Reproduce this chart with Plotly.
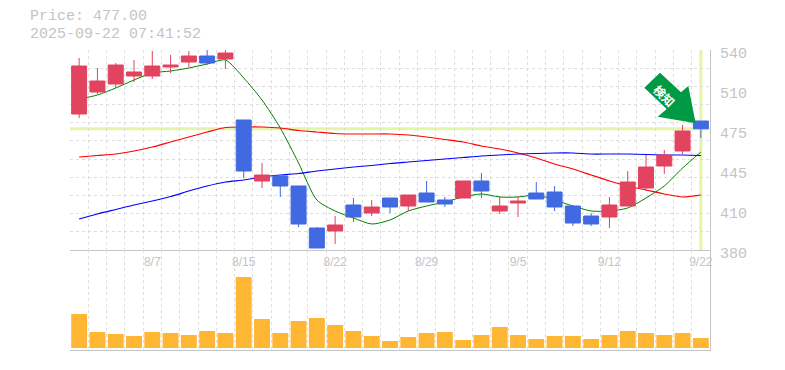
import plotly.graph_objects as go

dates = ["8/1","8/4","8/5","8/6","8/7","8/8","8/12","8/13","8/14","8/15","8/18","8/19","8/20","8/21","8/22","8/25","8/26","8/27","8/28","8/29","9/1","9/2","9/3","9/4","9/5","9/8","9/9","9/10","9/11","9/12","9/16","9/17","9/18","9/19","9/22"]
opens = [488.8,506.4,512.8,519.2,519.2,526.4,530.4,535.2,532.8,484,435.2,439.2,431.2,397.6,395.2,416,409.6,421.6,415.2,425.6,420,421.6,435.2,411.2,417.6,425.6,426.4,415.2,407.2,406.4,415.2,429.6,447.2,459.2,483.2]
highs = [533.6,525.6,529.6,532,539.2,536,539.2,541.6,541.6,484,449.6,439.2,431.2,398.4,407.2,421.6,420,421.6,424,435.2,422.4,435.2,441.6,423.2,423.2,434.4,431.2,416,409.6,422.4,443.2,456,460,480,483.2]
lows = [485.6,504.8,509.6,514.4,516.8,521.6,526.4,528,524.8,437.6,429.6,422.4,398.4,381.6,384.8,402.4,407.2,409.6,411.2,418.4,414.4,421.6,421.6,408.8,406.4,420.8,411.2,399.2,399.2,397.6,415.2,427.2,440.8,456.8,469.6]
closes = [527.2,515.2,528,522.4,527.2,528,535.2,529.6,537.6,443.2,440,431.2,400.8,381.6,400,406.4,414.4,414.4,424,418.4,416.8,435.2,427.2,415.2,419.2,420.8,414.4,401.6,400.8,416,434.4,446.4,456,475.2,477]
ma_short = [500.8,504,509.6,516,521.6,523.2,525.6,528.8,532,517.6,500,477.6,449.6,420,411.2,405.6,400.8,404,411.2,415.2,418.4,422.4,424.8,422.4,422.4,424,420,415.2,411.2,411.2,413.6,421.6,431.2,445.6,458.4]
ma_mid = [454.4,455.6,456.8,459.2,462.4,466.4,470.4,474.4,478,478.4,478.4,477.6,475.6,474.4,473.2,472.8,472.8,472.8,472,470.4,468.4,466.4,463.2,460.8,457.6,453.6,448.8,444.8,440,435.2,431.2,428,424.8,422.4,424]
ma_long = [404.8,408.8,412.4,416,419.2,422.8,427.2,431.2,434.4,436,438.4,440,441.2,443.2,444.8,446.4,447.6,449.2,450.4,451.6,452.8,454,455.2,456,456.8,457.2,457.6,457.6,456.8,456.8,456.8,456.4,456,456,455.6]
volumes = [34,16,14,12,16,15,13,17,15,71,29,15,27,30,23,17,12,7,11,15,16,8,13,21,13,9,12,12,9,13,17,15,13,15,10]
price_ticks = [380,412,444,476,508,540]
price_labels = ["380","410","445","475","510","540"]
date_ticks = ["8/7","8/15","8/22","8/29","9/5","9/12","9/22"]
current_price = 477.00
timestamp = "2025-09-22 07:41:52"
signal_text = "検知"

GRAY = "#c4c4c4"
GRID = "#dddddd"
RED = "#e2435f"
BLUE = "#4169e1"
CROSS = "#e4f5a8"
MONO = "Liberation Mono"
idx = list(range(len(dates)))
date_pos = [dates.index(d) for d in date_ticks]

fig = go.Figure()
fig.add_trace(go.Scatter(x=idx, y=ma_short, mode="lines", line=dict(color="#008000", width=1, shape="spline", smoothing=0.7)))
fig.add_trace(go.Scatter(x=idx, y=ma_mid, mode="lines", line=dict(color="#ff0000", width=1.2, shape="spline", smoothing=0.7)))
fig.add_trace(go.Scatter(x=idx, y=ma_long, mode="lines", line=dict(color="#0000ff", width=1.2, shape="spline", smoothing=0.7)))
fig.add_trace(go.Candlestick(
    x=idx, open=opens, high=highs, low=lows, close=closes, yaxis="y3", whiskerwidth=0,
    increasing=dict(line=dict(color=RED, width=1), fillcolor=RED),
    decreasing=dict(line=dict(color=BLUE, width=1), fillcolor=BLUE),
))
fig.add_trace(go.Bar(x=idx, y=volumes, yaxis="y2", xaxis="x2", width=0.87, marker=dict(color="#ffb733", line_width=0)))

minor_x = dict(showgrid=True, griddash="3px,3px", gridcolor=GRID, gridwidth=1, tick0=-0.5, dtick=1, ticklen=0)
fig.update_layout(
    width=777, height=362, autosize=False, showlegend=False,
    margin=dict(l=62, r=75, t=42, b=20, autoexpand=False),
    paper_bgcolor="white", plot_bgcolor="white",
    font=dict(family=MONO, size=15, color=GRAY),
    boxgap=0.18, boxgroupgap=0,
    xaxis=dict(domain=[0, 1], range=[-0.5, 34.5], anchor="y", rangeslider=dict(visible=False), automargin=False,
               tickmode="array", tickvals=date_pos, ticktext=date_ticks, showgrid=False, ticks="",
               tickfont=dict(family="Liberation Sans", size=12, color=GRAY), ticklabelstandoff=1,
               showline=True, linecolor=GRAY, linewidth=1, zeroline=False, minor=minor_x),
    xaxis2=dict(domain=[0, 1], range=[-0.5, 34.5], anchor="y2", showticklabels=False, showgrid=False, ticks="", automargin=False,
                showline=True, linecolor=GRAY, linewidth=1, zeroline=False, minor=minor_x),
    yaxis=dict(domain=[1/3, 1], range=[380, 540], side="right", anchor="x", automargin=False,
               tickmode="array", tickvals=price_ticks, ticktext=price_labels, showgrid=False, ticks="",
               ticklabelshift=3, ticklabelstandoff=6, showline=True, linecolor=GRAY, linewidth=1, zeroline=False,
               minor=dict(showgrid=True, griddash="3px,3px", gridcolor=GRID, gridwidth=1, tick0=380, dtick=160/11, ticklen=0)),
    yaxis2=dict(domain=[0, 1/3], range=[-2, 98], side="right", anchor="x2", showticklabels=False, showgrid=False, automargin=False,
                ticks="", showline=True, linecolor=GRAY, linewidth=1, zeroline=False),
    yaxis3=dict(overlaying="y", range=[380, 540], side="right", anchor="x", showticklabels=False, automargin=False,
                showgrid=False, ticks="", zeroline=False, showline=False),
    shapes=[
        dict(type="line", xref="x", yref="y", x0=-0.5, x1=34.5, y0=current_price, y1=current_price,
             line=dict(color=CROSS, width=3), layer="below"),
        dict(type="line", xref="x", yref="y", x0=idx[-1], x1=idx[-1], y0=380, y1=540,
             line=dict(color=CROSS, width=3), layer="below"),
        dict(type="path", xref="paper", yref="paper", fillcolor="#009a44", line=dict(width=0), layer="above",
             path="M %f %f L %f %f L %f %f L %f %f L %f %f L %f %f L %f %f Z" % tuple(
                 v for p in [(660,72.7),(644.3,87.7),(666.7,109),(657.7,116.7),(695.7,123.3),(688.3,86),(681,92.3)]
                 for v in ((p[0]-70)/640, (350-p[1])/300))),
    ],
    annotations=[
        dict(text=f"Price: {current_price:.2f}", xref="paper", yref="paper", x=(28-70)/640, y=(350-17)/300,
             xanchor="left", yanchor="middle", showarrow=False, font=dict(family=MONO, size=15, color=GRAY)),
        dict(text=timestamp, xref="paper", yref="paper", x=(28-70)/640, y=(350-34)/300,
             xanchor="left", yanchor="middle", showarrow=False, font=dict(family=MONO, size=15, color=GRAY)),
        dict(text=f"<b>{signal_text}</b>", xref="paper", yref="paper", x=(665-70)/640, y=(350-95)/300, textangle=45,
             xanchor="center", yanchor="middle", showarrow=False,
             font=dict(family="Noto Sans CJK JP", size=12, color="white")),
    ],
)
fig.write_html("out.html")
